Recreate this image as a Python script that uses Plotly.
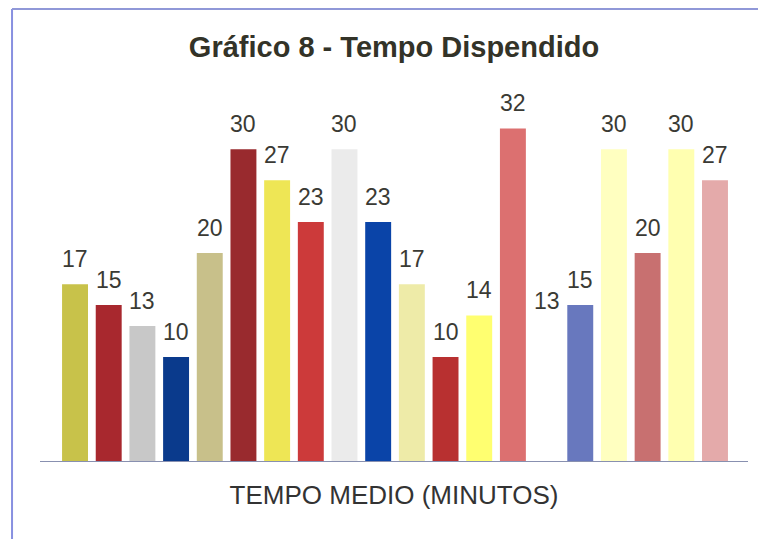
import plotly.graph_objects as go

# Valores (tempo médio em minutos)
valores = [17, 15, 13, 10, 20, 30, 27, 23, 30, 23, 17, 10, 14, 32, 13, 15, 30, 20, 30, 27]
cores = [
    "#C8C24A", "#A8282E", "#C8C8C8", "#0A3A8C", "#C8C08A",
    "#992A2E", "#EEE655", "#CC3A3A", "#EBEBEB", "#0A44A8",
    "#EEEBA8", "#B83030", "#FFFF70", "#DC7070", "#FFFFFF",
    "#6878BE", "#FFFFC0", "#C87070", "#FFFFB0", "#E4AAAA",
]
posicoes = list(range(len(valores)))

titulo = "Gráfico 8 - Tempo Dispendido"
eixo_x = "TEMPO MEDIO (MINUTOS)"

fig = go.Figure()
fig.add_trace(
    go.Bar(
        x=posicoes,
        y=valores,
        marker=dict(color=cores, line=dict(width=0)),
        hoverinfo="skip",
    )
)

# Rótulos acima das barras
for x, v in zip(posicoes, valores):
    fig.add_annotation(
        x=x, y=v, text=str(v), showarrow=False,
        yanchor="bottom", yshift=10,
        font=dict(size=23, color="#3a3a34", family="Liberation Sans"),
    )

# Moldura azul (esquerda e topo)
fig.add_shape(type="line", xref="paper", yref="paper",
              x0=-0.0395, x1=-0.0395, y0=-0.25, y1=1.318,
              line=dict(color="#8890E0", width=2))
fig.add_shape(type="line", xref="paper", yref="paper",
              x0=-0.0395, x1=1.05, y0=1.318, y1=1.318,
              line=dict(color="#9098D8", width=2))

fig.update_layout(
    width=766,
    height=539,
    margin=dict(l=32, r=26, t=110, b=86),
    paper_bgcolor="white",
    plot_bgcolor="white",
    bargap=0.23,
    showlegend=False,
    font=dict(family="Liberation Sans", color="#333333"),
    title=dict(
        text="<b>" + titulo + "</b>",
        x=0.5, xref="paper", y=1 - 39 / 539, yref="container",
        xanchor="center", yanchor="middle",
        font=dict(size=29, color="#333328", family="Liberation Sans"),
    ),
    xaxis=dict(
        range=[-1.04, 19.98],
        showticklabels=False, ticks="", showgrid=False, zeroline=False,
        showline=True, linecolor="#8890B0", linewidth=1,
        title=dict(text=eixo_x, standoff=24,
                   font=dict(size=26, color="#333333")),
    ),
    yaxis=dict(
        range=[0, 33],
        visible=False, showgrid=False, zeroline=False,
    ),
)

fig.write_html("out.html")
